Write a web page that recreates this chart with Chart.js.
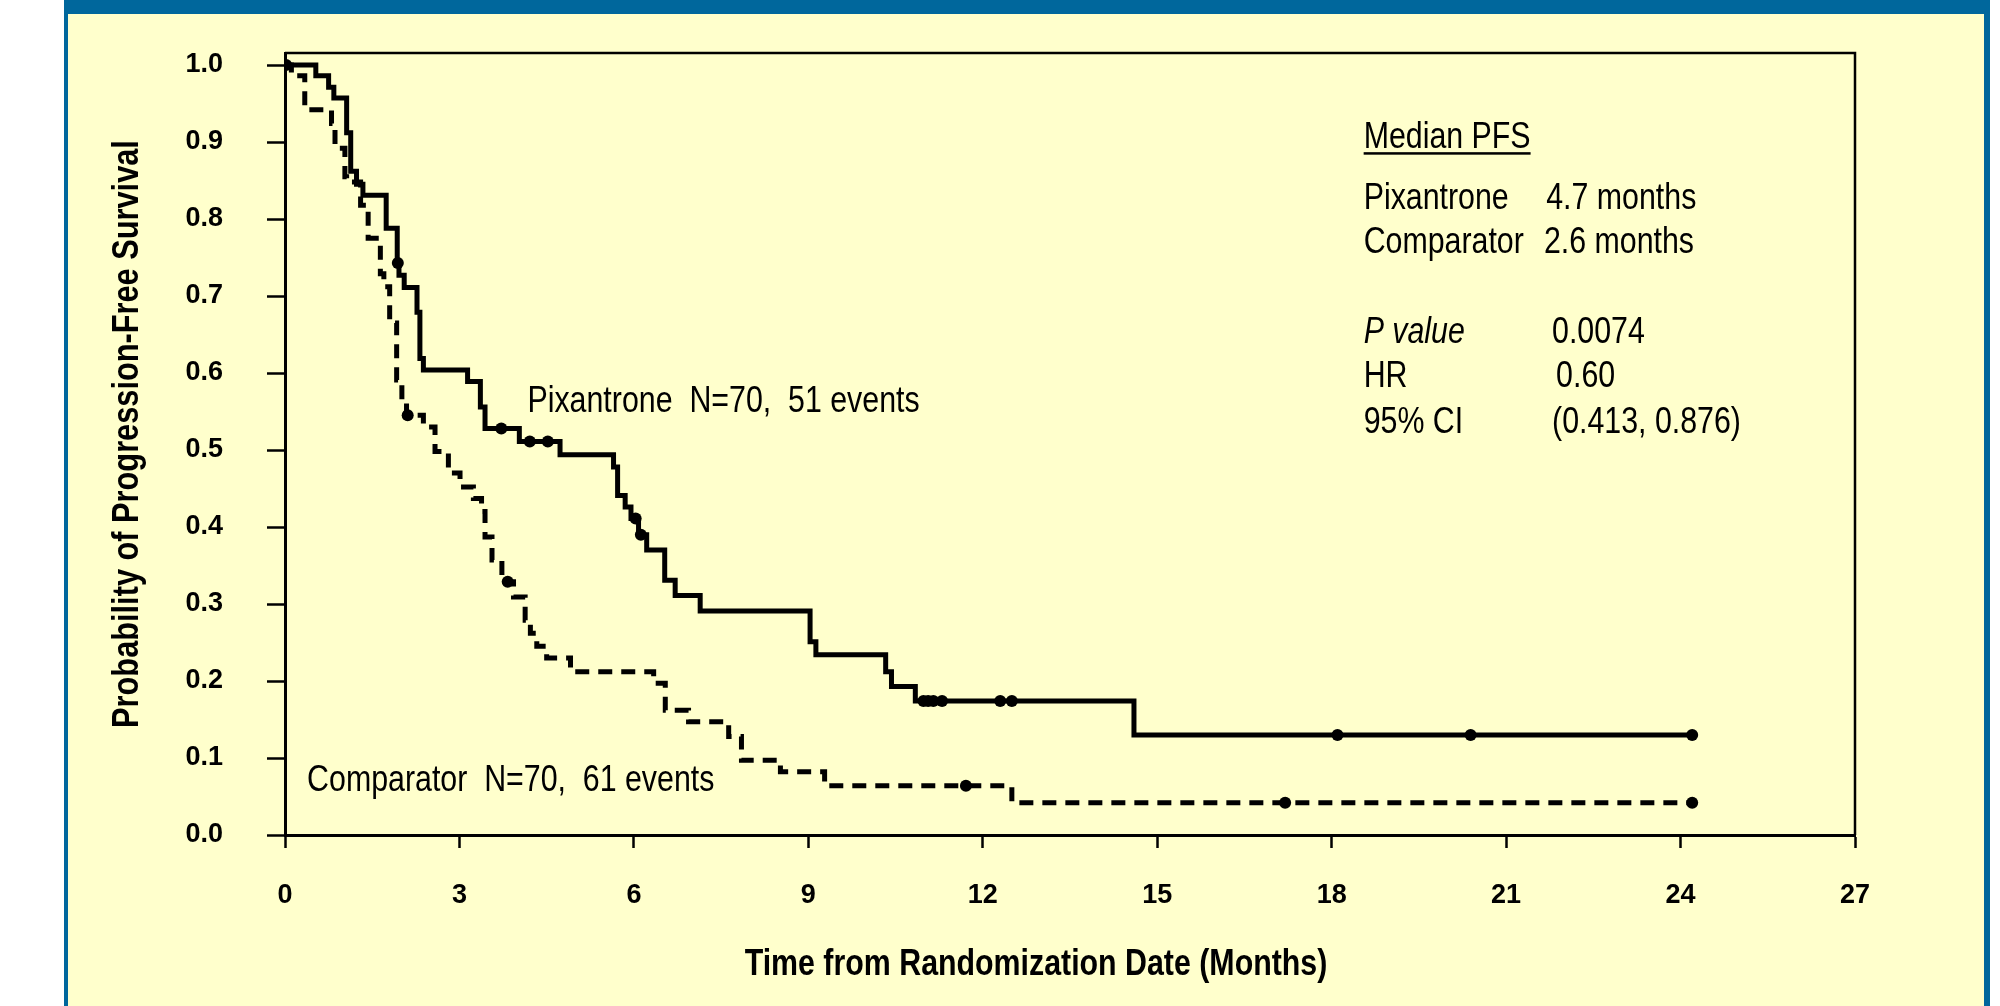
<!DOCTYPE html>
<html>
<head>
<meta charset="utf-8">
<script src="https://cdn.jsdelivr.net/npm/chart.js@4.4.1/dist/chart.umd.min.js"></script>
<style>
html,body{margin:0;padding:0;background:#ffffff;width:2000px;height:1006px;overflow:hidden;}
#panel{position:absolute;left:64px;top:0;width:1926px;height:1006px;background:#FFFFCC;
  border-left:4px solid #00679C;border-right:6px solid #00679C;border-top:14px solid #00679C;box-sizing:border-box;}
#c{position:absolute;left:0;top:0;}
</style>
</head>
<body>
<div id="panel"></div>
<canvas id="c" width="2000" height="1006"></canvas>
<script>
// ---- data (months, survival probability) ----
const pixTimes = [0, 0.53, 0.75, 0.84, 1.06, 1.13, 1.23, 1.34, 1.74, 1.93, 1.96, 2.05, 2.27, 2.32, 2.38, 3.14, 3.36, 3.44, 4.03, 4.73, 5.65, 5.72, 5.85, 5.95, 6.08, 6.22, 6.53, 6.71, 7.14, 9.03, 9.13, 10.33, 10.43, 10.84, 14.6, 24.2];
const pixSurv  = [1.0, 0.986, 0.971, 0.957, 0.912, 0.862, 0.845, 0.831, 0.788, 0.743, 0.727, 0.711, 0.679, 0.619, 0.604, 0.589, 0.556, 0.528, 0.511, 0.494, 0.478, 0.441, 0.426, 0.411, 0.390, 0.370, 0.331, 0.311, 0.291, 0.251, 0.234, 0.212, 0.193, 0.174, 0.130, 0.130];
const pixCensorT = [0.02, 1.94, 3.72, 4.21, 4.52, 6.03, 6.12, 10.98, 11.06, 11.15, 11.30, 12.30, 12.50, 18.10, 20.39, 24.20];
const pixCensorS = [1.0, 0.743, 0.528, 0.511, 0.511, 0.411, 0.390, 0.174, 0.174, 0.174, 0.174, 0.174, 0.174, 0.130, 0.130, 0.130];

const compTimes = [0, 0.11, 0.34, 0.80, 0.86, 1.03, 1.06, 1.30, 1.43, 1.64, 1.70, 1.80, 1.92, 2.01, 2.09, 2.38, 2.58, 2.81, 3.01, 3.24, 3.38, 3.44, 3.56, 3.73, 3.93, 4.13, 4.22, 4.33, 4.50, 4.91, 6.34, 6.54, 6.94, 7.63, 7.85, 8.52, 9.28, 12.50, 24.2];
const compSurv  = [1.0, 0.986, 0.942, 0.924, 0.892, 0.855, 0.848, 0.818, 0.775, 0.729, 0.712, 0.665, 0.591, 0.561, 0.545, 0.530, 0.498, 0.470, 0.452, 0.437, 0.420, 0.387, 0.357, 0.329, 0.309, 0.279, 0.262, 0.245, 0.230, 0.212, 0.197, 0.162, 0.147, 0.128, 0.097, 0.082, 0.064, 0.042, 0.042];
const compCensorT = [2.11, 3.83, 11.71, 17.20, 24.20];
const compCensorS = [0.545, 0.329, 0.064, 0.042, 0.042];

const xTicks = [0, 3, 6, 9, 12, 15, 18, 21, 24, 27];
const yTicks = [0.0, 0.1, 0.2, 0.3, 0.4, 0.5, 0.6, 0.7, 0.8, 0.9, 1.0];

const xTitle = 'Time from Randomization Date (Months)';
const yTitle = 'Probability of Progression-Free Survival';
const pixLabel = 'Pixantrone  N=70,  51 events';
const compLabel = 'Comparator  N=70,  61 events';
const statsTitle = 'Median PFS';
const statsRows = [
  ['Pixantrone', '4.7 months'],
  ['Comparator', '2.6 months'],
  ['P value', '0.0074'],
  ['HR', '0.60'],
  ['95% CI', '(0.413, 0.876)']
];

const SANS = "'Liberation Sans', Arial, sans-serif";
const NARROW = 0.82; // horizontal condensing to mimic Arial Narrow

function pts(t, s) { return t.map((v, i) => ({x: v, y: s[i]})); }

function nText(ctx, text, x, y, font, align, rot) {
  ctx.save();
  ctx.font = font;
  ctx.translate(x, y);
  if (rot) ctx.rotate(rot);
  ctx.scale(NARROW, 1);
  ctx.textAlign = align;
  ctx.fillText(text, 0, 0);
  const w = ctx.measureText(text).width * NARROW;
  ctx.restore();
  return w;
}

const textPlugin = {
  id: 'texts',
  afterDraw(chart) {
    const ctx = chart.ctx;
    const xs = chart.scales.x, ys = chart.scales.y;
    const ca = chart.chartArea;
    ctx.save();
    // plot frame (top and right)
    ctx.strokeStyle = '#000';
    ctx.lineWidth = 2.5;
    ctx.beginPath();
    ctx.moveTo(ca.left, ca.top);
    ctx.lineTo(ca.right, ca.top);
    ctx.lineTo(ca.right, ca.bottom);
    ctx.stroke();

    ctx.fillStyle = '#000';
    ctx.textBaseline = 'alphabetic';
    const F = '37px ' + SANS;
    nText(ctx, pixLabel, xs.getPixelForValue(4.17), ys.getPixelForValue(0.549), F, 'left');
    nText(ctx, compLabel, xs.getPixelForValue(0.38), ys.getPixelForValue(0.057), F, 'left');

    // stats block
    const x1 = xs.getPixelForValue(18.55);
    const x2 = [21.69, 21.65, 21.79, 21.86, 21.79].map(v => xs.getPixelForValue(v));
    const yb = [0.813, 0.756, 0.639, 0.582, 0.522].map(v => ys.getPixelForValue(v));
    const yT = ys.getPixelForValue(0.892);
    const w = nText(ctx, statsTitle, x1, yT, F, 'left');
    ctx.fillRect(x1, yT + 4, w, 2.5);
    statsRows.forEach((r, i) => {
      nText(ctx, r[0], x1, yb[i], (i === 2 ? 'italic ' : '') + F, 'left');
      nText(ctx, r[1], x2[i], yb[i], F, 'left');
    });

    // axis titles
    ctx.textBaseline = 'middle';
    nText(ctx, xTitle, 1036, 965, 'bold 37px ' + SANS, 'center');
    nText(ctx, yTitle, 128, 434, 'bold 37.5px ' + SANS, 'center', -Math.PI / 2);
    ctx.restore();
  }
};

new Chart(document.getElementById('c'), {
  type: 'line',
  data: {
    datasets: [
      {data: pts(pixTimes, pixSurv), borderColor: '#000', borderWidth: 5, stepped: 'before', pointRadius: 0, fill: false},
      {data: pts(compTimes, compSurv), borderColor: '#000', borderWidth: 5, borderDash: [14, 9], stepped: 'before', pointRadius: 0, fill: false},
      {data: pts(pixCensorT, pixCensorS), showLine: false, pointRadius: 6, pointBackgroundColor: '#000', pointBorderColor: '#000', pointBorderWidth: 0},
      {data: pts(compCensorT, compCensorS), showLine: false, pointRadius: 6, pointBackgroundColor: '#000', pointBorderColor: '#000', pointBorderWidth: 0}
    ]
  },
  options: {
    responsive: false,
    animation: false,
    events: [],
    layout: {padding: {left: 0, right: 145, top: 53, bottom: 0}},
    plugins: {legend: {display: false}, tooltip: {enabled: false}},
    scales: {
      x: {
        type: 'linear', min: 0, max: 27,
        afterBuildTicks: s => { s.ticks = xTicks.map(v => ({value: v})); },
        afterFit: s => { s.height = 171; s.paddingLeft = 0; s.paddingRight = 0; },
        grid: {drawOnChartArea: false, drawTicks: true, tickLength: 13, tickWidth: 2.5, tickColor: '#000'},
        border: {display: true, color: '#000', width: 3},
        ticks: {color: '#000', padding: 31, maxRotation: 0, autoSkip: false,
          font: {family: SANS, size: 27, weight: 'bold'}, callback: v => String(v)}
      },
      y: {
        type: 'linear', min: 0, max: 1.0156,
        afterBuildTicks: s => { s.ticks = yTicks.map(v => ({value: v})); },
        afterFit: s => { s.width = 285; s.paddingTop = 0; s.paddingBottom = 0; },
        grid: {drawOnChartArea: false, drawTicks: true, tickLength: 18, tickWidth: 2.5, tickColor: '#000'},
        border: {display: true, color: '#000', width: 3},
        ticks: {color: '#000', padding: 44, autoSkip: false,
          font: {family: SANS, size: 27, weight: 'bold'}, callback: v => v.toFixed(1)}
      }
    }
  },
  plugins: [textPlugin]
});
</script>
</body>
</html>
